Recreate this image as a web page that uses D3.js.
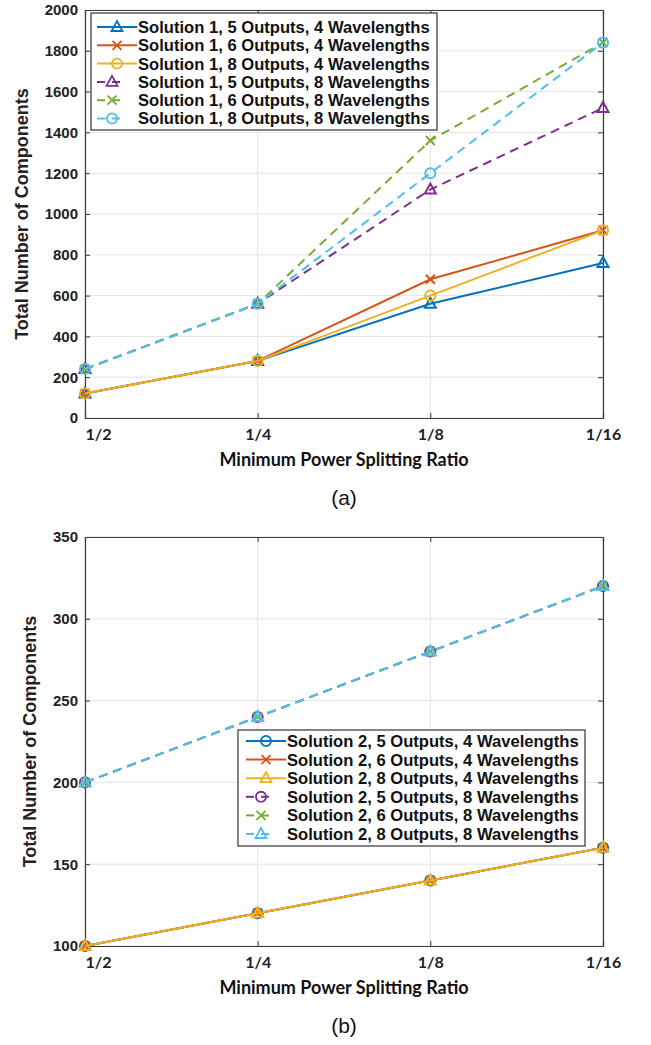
<!DOCTYPE html>
<html>
<head>
<meta charset="utf-8">
<script src="https://cdn.jsdelivr.net/npm/d3@7"></script>
<style>
  body { margin: 0; background: #fff; }
  svg { display: block; }
</style>
</head>
<body>
<script>
// x categories
var ratios = ['1/2', '1/4', '1/8', '1/16'];

// panel (a) - solution 1
var s1Names = [
  'Solution 1, 5 Outputs, 4 Wavelengths',
  'Solution 1, 6 Outputs, 4 Wavelengths',
  'Solution 1, 8 Outputs, 4 Wavelengths',
  'Solution 1, 5 Outputs, 8 Wavelengths',
  'Solution 1, 6 Outputs, 8 Wavelengths',
  'Solution 1, 8 Outputs, 8 Wavelengths'
];
var s1_5out_4wl = [120, 280, 560, 760];
var s1_6out_4wl = [120, 280, 680, 920];
var s1_8out_4wl = [120, 280, 600, 920];
var s1_5out_8wl = [240, 560, 1120, 1520];
var s1_6out_8wl = [240, 560, 1360, 1840];
var s1_8out_8wl = [240, 560, 1200, 1840];
var s1Ticks = [0, 200, 400, 600, 800, 1000, 1200, 1400, 1600, 1800, 2000];

// panel (b) - solution 2
var s2Names = [
  'Solution 2, 5 Outputs, 4 Wavelengths',
  'Solution 2, 6 Outputs, 4 Wavelengths',
  'Solution 2, 8 Outputs, 4 Wavelengths',
  'Solution 2, 5 Outputs, 8 Wavelengths',
  'Solution 2, 6 Outputs, 8 Wavelengths',
  'Solution 2, 8 Outputs, 8 Wavelengths'
];
var s2_5out_4wl = [100, 120, 140, 160];
var s2_6out_4wl = [100, 120, 140, 160];
var s2_8out_4wl = [100, 120, 140, 160];
var s2_5out_8wl = [200, 240, 280, 320];
var s2_6out_8wl = [200, 240, 280, 320];
var s2_8out_8wl = [200, 240, 280, 320];
var s2Ticks = [100, 150, 200, 250, 300, 350];

var colors = ['#0072BD', '#D95319', '#EDB120', '#7E2F8E', '#77AC30', '#4DBEEE'];
var dashed = [false, false, false, true, true, true];

var W = 651, H = 1045;
var svg = d3.select('body').append('svg')
  .attr('width', W)
  .attr('height', H);

drawPanel({
  top: 10, bottom: 418, left: 85, right: 603,
  domain: [0, 2000], ticks: s1Ticks,
  series: [s1_5out_4wl, s1_6out_4wl, s1_8out_4wl, s1_5out_8wl, s1_6out_8wl, s1_8out_8wl],
  names: s1Names,
  markers: ['tri', 'x', 'circle', 'tri', 'x', 'circle'],
  yTitleX: 22,
  legend: { x: 91, y: 13, w: 346, h: 117, row0: 14, step: 18.3, lineX: 6 },
  caption: '(a)'
});

drawPanel({
  top: 537, bottom: 946, left: 85, right: 603,
  domain: [100, 350], ticks: s2Ticks,
  series: [s2_5out_4wl, s2_6out_4wl, s2_8out_4wl, s2_5out_8wl, s2_6out_8wl, s2_8out_8wl],
  names: s2Names,
  markers: ['circle', 'x', 'tri', 'circle', 'x', 'tri'],
  yTitleX: 30,
  legend: { x: 238, y: 730, w: 347, h: 116, row0: 11, step: 18.6, lineX: 8 },
  caption: '(b)'
});

function drawPanel(cfg) {
  var g = svg.append('g');

  var x = d3.scalePoint()
    .domain(ratios)
    .range([cfg.left, cfg.right]);

  var y = d3.scaleLinear()
    .domain(cfg.domain)
    .range([cfg.bottom, cfg.top]);

  // grid
  g.append('g').selectAll('line.gy')
    .data(cfg.ticks)
    .enter()
    .append('line')
      .attr('x1', cfg.left).attr('x2', cfg.right)
      .attr('y1', function(d) { return y(d); })
      .attr('y2', function(d) { return y(d); })
      .attr('stroke', '#e3e3e3')
      .attr('stroke-width', 1);

  g.append('g').selectAll('line.gx')
    .data(ratios)
    .enter()
    .append('line')
      .attr('x1', function(d) { return x(d); })
      .attr('x2', function(d) { return x(d); })
      .attr('y1', cfg.top).attr('y2', cfg.bottom)
      .attr('stroke', '#e3e3e3')
      .attr('stroke-width', 1);

  // axes (ticks inward like matlab)
  var yl = g.append('g')
    .attr('transform', translation(cfg.left, 0))
    .call(d3.axisLeft(y).tickValues(cfg.ticks).tickSize(-5).tickPadding(7).tickFormat(d3.format('d')));
  var yr = g.append('g')
    .attr('transform', translation(cfg.right, 0))
    .call(d3.axisRight(y).tickValues(cfg.ticks).tickSize(-5).tickFormat(''));
  var xb = g.append('g')
    .attr('transform', translation(0, cfg.bottom))
    .call(d3.axisBottom(x).tickSize(-5).tickPadding(11));
  var xt = g.append('g')
    .attr('transform', translation(0, cfg.top))
    .call(d3.axisTop(x).tickSize(-5).tickFormat(''));

  [yl, yr, xb, xt].forEach(function(a) {
    a.select('.domain').attr('stroke', '#3a3a3a').attr('stroke-width', 1.2);
    a.selectAll('.tick line').attr('stroke', '#3a3a3a');
  });

  yl.selectAll('.tick text')
    .attr('font-family', '"Liberation Sans", Arial, sans-serif')
    .attr('font-weight', 'bold')
    .attr('font-size', 15)
    .attr('fill', '#222');

  xb.selectAll('.tick text')
    .attr('font-family', 'Lato, "Open Sans", sans-serif')
    .attr('font-weight', 'bold')
    .attr('font-size', 16)
    .attr('fill', '#222')
    .attr('text-anchor', function(d, i) { return i === 0 ? 'start' : 'middle'; });

  // series
  var line = d3.line()
    .x(function(d, i) { return x(ratios[i]); })
    .y(function(d) { return y(d); });

  cfg.series.forEach(function(vals, si) {
    g.append('path')
      .datum(vals)
      .attr('d', line)
      .attr('fill', 'none')
      .attr('stroke', colors[si])
      .attr('stroke-width', 2)
      .attr('stroke-dasharray', dashed[si] ? '9,6' : null);

    g.append('g').selectAll('.m')
      .data(vals)
      .enter()
      .append('path')
        .attr('transform', function(d, i) { return translation(x(ratios[i]), y(d)); })
        .attr('d', markerPath(cfg.markers[si]))
        .attr('fill', 'none')
        .attr('stroke', colors[si])
        .attr('stroke-width', 2);
  });

  // legend
  var L = cfg.legend;
  var leg = g.append('g').attr('transform', translation(L.x, L.y));
  leg.append('rect')
    .attr('width', L.w)
    .attr('height', L.h)
    .attr('fill', '#fff')
    .attr('stroke', '#333')
    .attr('stroke-width', 1.2);

  cfg.names.forEach(function(name, i) {
    var ry = L.row0 + i * L.step;
    var x1 = L.lineX, x2 = dashed[i] ? L.lineX + 30 : L.lineX + 40;
    leg.append('line')
      .attr('x1', x1).attr('x2', x2)
      .attr('y1', ry).attr('y2', ry)
      .attr('stroke', colors[i])
      .attr('stroke-width', 2)
      .attr('stroke-dasharray', dashed[i] ? '8,7' : null);
    leg.append('path')
      .attr('transform', translation(L.lineX + (dashed[i] ? 15 : 20), ry))
      .attr('d', markerPath(cfg.markers[i]))
      .attr('fill', 'none')
      .attr('stroke', colors[i])
      .attr('stroke-width', 1.8);
    leg.append('text')
      .attr('x', L.lineX + 41)
      .attr('y', ry)
      .attr('dy', '0.36em')
      .attr('font-family', '"Liberation Sans", Arial, sans-serif')
      .attr('font-weight', 'bold')
      .attr('font-size', 16.6)
      .attr('fill', '#111')
      .text(name);
  });

  // axis titles
  g.append('text')
    .attr('transform', translation(cfg.yTitleX, (cfg.top + cfg.bottom) / 2) + ' rotate(-90)')
    .attr('text-anchor', 'middle')
    .attr('dy', '0.36em')
    .attr('font-family', '"Liberation Sans", Arial, sans-serif')
    .attr('font-weight', 'bold')
    .attr('font-size', 18)
    .attr('fill', '#222')
    .text('Total Number of Components');

  g.append('text')
    .attr('x', (cfg.left + cfg.right) / 2)
    .attr('y', cfg.bottom + 48)
    .attr('text-anchor', 'middle')
    .attr('font-family', 'Lato, "Open Sans", sans-serif')
    .attr('font-weight', 'bold')
    .attr('font-size', 18)
    .attr('fill', '#111')
    .text('Minimum Power Splitting Ratio');

  g.append('text')
    .attr('x', (cfg.left + cfg.right) / 2)
    .attr('y', cfg.bottom + 87)
    .attr('text-anchor', 'middle')
    .attr('font-family', '"Liberation Sans", Arial, sans-serif')
    .attr('font-size', 21)
    .attr('fill', '#111')
    .text(cfg.caption);
}

function markerPath(type) {
  if (type === 'x') return 'M-4.5,-4.5L4.5,4.5M-4.5,4.5L4.5,-4.5';
  if (type === 'tri') return 'M0,-6L5.5,4L-5.5,4Z';
  return d3.symbol().type(d3.symbolCircle).size(80)();
}

function translation(x, y) {
  return 'translate(' + x + ',' + y + ')';
}
</script>
</body>
</html>
